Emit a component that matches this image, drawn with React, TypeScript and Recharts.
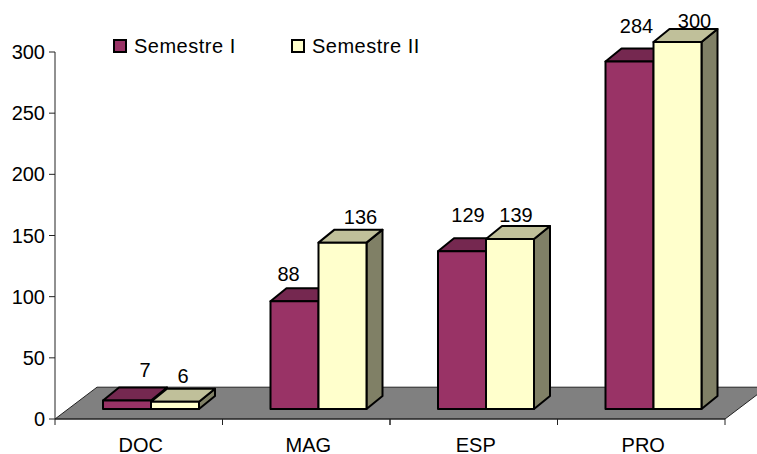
import { BarChart, Bar, XAxis, YAxis, Legend, LabelList, ReferenceArea } from 'recharts';

const categories = ['DOC', 'MAG', 'ESP', 'PRO'];
const semestreI = [7, 88, 129, 284];
const semestreII = [6, 136, 139, 300];
const yTicks = [0, 50, 100, 150, 200, 250, 300];

const data = categories.map((name, i) => ({ name, s1: semestreI[i], s2: semestreII[i] }));

const FONT = '"Liberation Sans", Arial, sans-serif';
const AXIS = '#222222';
const BAND = 167.5;
const SHIFT_X = 12;
const SHIFT_Y = -10;
const DEPTH_X = 16;
const DEPTH_Y = -13;

// hand nudges for the data labels, the original labels sit unevenly
const nudgeI = [[18, -10], [-6, -7], [6, -16], [7, -16]];
const nudgeII = [[8, -6], [18, -6], [6, -4], [17, -1]];

function Box3D({ x, y, width, height, front, top, side }: any) {
  const l = x + SHIFT_X;
  const r = l + width;
  const t = y + SHIFT_Y;
  const b = t + height;
  return (
    <g stroke="#000" strokeWidth={2} strokeLinejoin="round">
      <polygon points={`${r},${b} ${r + DEPTH_X},${b + DEPTH_Y} ${r + DEPTH_X},${t + DEPTH_Y} ${r},${t}`} fill={side} />
      <polygon points={`${l},${t} ${l + DEPTH_X},${t + DEPTH_Y} ${r + DEPTH_X},${t + DEPTH_Y} ${r},${t}`} fill={top} />
      <rect x={l} y={t} width={width} height={height} fill={front} />
    </g>
  );
}

function Floor({ x, y, width, height }: any) {
  const bottom = y + height;
  return (
    <polygon
      points={`${x},${bottom} ${x + width},${bottom} ${x + width + 42},${y} ${x + 42},${y}`}
      fill="#808080"
      stroke={AXIS}
      strokeWidth={1}
    />
  );
}

function CategoryTick({ x, y, payload }: any) {
  return (
    <g>
      <line x1={x - BAND / 2} x2={x - BAND / 2} y1={y - 8} y2={y - 2} stroke={AXIS} />
      <line x1={x + BAND / 2} x2={x + BAND / 2} y1={y - 8} y2={y - 2} stroke={AXIS} />
      <text x={x + 2} y={y + 25} textAnchor="middle" fontFamily={FONT} fontSize={20} fill="#000">
        {payload.value}
      </text>
    </g>
  );
}

function valueLabel(nudges: number[][]) {
  return ({ x, y, width, value, index }: any) => (
    <text
      x={x + width / 2 + SHIFT_X + nudges[index][0]}
      y={y + SHIFT_Y + DEPTH_Y + nudges[index][1]}
      textAnchor="middle"
      fontFamily={FONT}
      fontSize={20}
      fill="#000"
    >
      {value}
    </text>
  );
}

function LegendRow({ payload }: any) {
  return (
    <div style={{ display: 'flex', fontFamily: FONT, fontSize: 20, lineHeight: '24px', color: '#000' }}>
      {(payload || []).map((p: any) => (
        <div key={p.value} style={{ display: 'flex', alignItems: 'center', width: 178 }}>
          <span style={{ width: 10, height: 10, border: '2px solid #000', background: p.color, marginRight: 7 }} />
          <span style={{ letterSpacing: 0.5 }}>{p.value}</span>
        </div>
      ))}
    </div>
  );
}

export default function App() {
  return (
    <div style={{ position: 'absolute', left: 0, top: 0 }}>
      <BarChart
        width={757}
        height={454}
        data={data}
        margin={{ top: 52, right: 32, left: 0, bottom: 0 }}
        barSize={48}
        barGap={0}
      >
        <XAxis
          dataKey="name"
          axisLine={{ stroke: AXIS }}
          tickLine={false}
          height={35}
          tick={<CategoryTick />}
          interval={0}
        />
        <YAxis
          domain={[0, 300]}
          ticks={yTicks}
          width={55}
          axisLine={{ stroke: AXIS }}
          tickLine={{ stroke: AXIS }}
          tickSize={6}
          tickMargin={4}
          tick={{ fontFamily: FONT, fontSize: 20, fill: '#000' }}
        />
        <ReferenceArea y1={0} y2={26} ifOverflow="visible" shape={<Floor />} />
        <Legend
          layout="vertical"
          align="center"
          verticalAlign="middle"
          content={<LegendRow />}
          wrapperStyle={{ left: 113, top: 34, width: 400 }}
        />
        <Bar
          dataKey="s1"
          name="Semestre I"
          fill="#993366"
          isAnimationActive={false}
          shape={<Box3D front="#993366" top="#752850" side="#5c1f40" />}
        >
          <LabelList dataKey="s1" content={valueLabel(nudgeI)} />
        </Bar>
        <Bar
          dataKey="s2"
          name="Semestre II"
          fill="#FFFFCC"
          isAnimationActive={false}
          shape={<Box3D front="#FFFFCC" top="#C0C09A" side="#808066" />}
        >
          <LabelList dataKey="s2" content={valueLabel(nudgeII)} />
        </Bar>
      </BarChart>
    </div>
  );
}
